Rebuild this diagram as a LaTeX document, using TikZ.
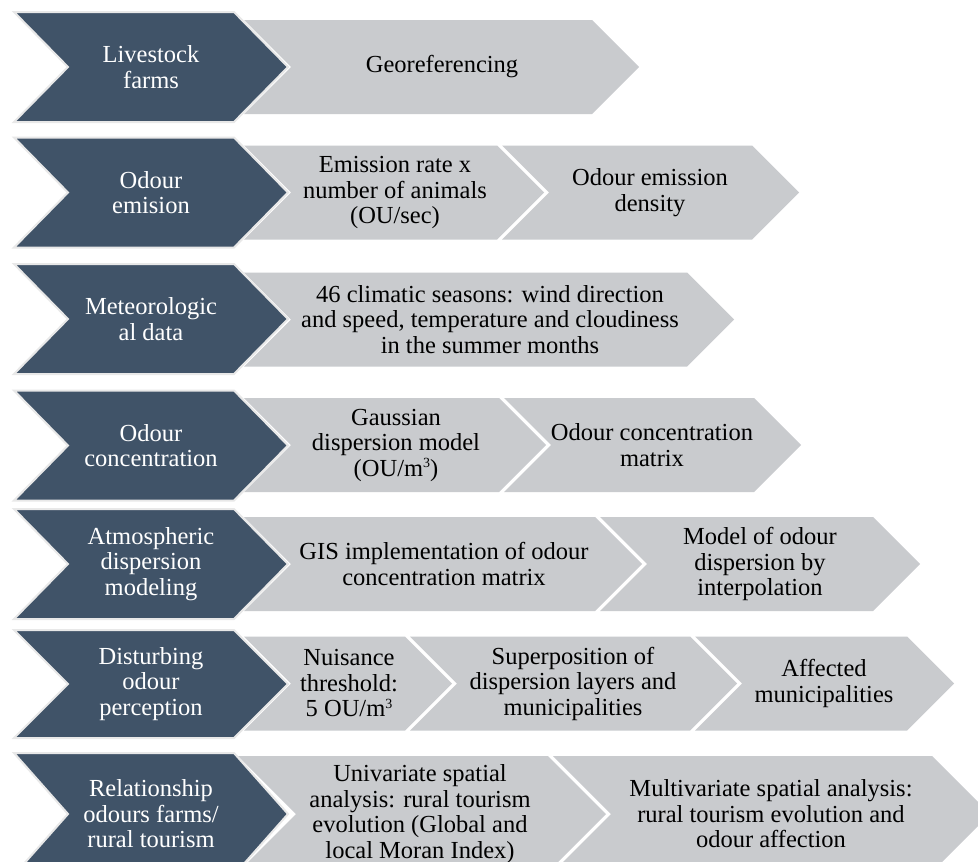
\documentclass[tikz,border=0pt]{standalone}
\usepackage{fontspec}
\setmainfont{Liberation Serif}
\definecolor{darkc}{RGB}{64,83,104}
\definecolor{lightc}{RGB}{201,203,206}
\definecolor{edgec}{RGB}{232,232,232}
\newcommand{\cubic}{\raisebox{0.78ex}{\fontsize{14}{14}\selectfont 3}}
\tikzset{
  darkchev/.style={fill=darkc, draw=edgec, line width=2pt, line join=miter},
  lightchev/.style={fill=lightc},
  dtext/.style={text=white, align=center, inner sep=0pt, font=\fontsize{24.5}{25.5}\selectfont},
  ltext/.style={text=black, align=center, inner sep=0pt, font=\fontsize{24.5}{25.5}\selectfont},
}
% dark chevron: centre y, half height
\newcommand{\DChev}[2]{%
  \path[darkchev] (14,#1-#2) -- (234,#1-#2) -- (288,#1) -- (234,#1+#2) -- (14,#1+#2) -- (68,#1) -- cycle;}
% light chevron: centre y, half height, left x, top-right corner x
\newcommand{\LChev}[4]{%
  \path[lightchev] (#3,#1-#2) -- (#4,#1-#2) -- (#4+#2,#1) -- (#4,#1+#2) -- (#3,#1+#2) -- (#3+#2,#1) -- cycle;}
\begin{document}
\begin{tikzpicture}[x=1pt,y=-1pt]
\useasboundingbox (0,0) rectangle (978,862);
\clip (0,0) rectangle (978,862);
\fill[white] (0,0) rectangle (978,862);

% ---------- light chevrons ----------
% row 1
\LChev{67}{47}{244}{592}
% row 2
\LChev{192.5}{47}{244}{497}
\LChev{192.5}{47}{502}{752}
% row 3
\LChev{319.5}{47}{244}{687}
% row 4
\LChev{445}{47}{244}{499}
\LChev{445}{47}{504}{754}
% row 5
\LChev{564}{47}{244}{595}
\LChev{564}{47}{600}{873}
% row 6
\LChev{683.5}{47}{244}{405}
\LChev{683.5}{47}{410}{690}
\LChev{683.5}{47}{695}{907}
% row 7
\LChev{814}{58}{238}{548}
\LChev{814}{58}{553}{932}

% ---------- dark chevrons ----------
\DChev{67}{55}
\DChev{192.5}{55}
\DChev{319}{55}
\DChev{445.5}{55}
\DChev{564}{55}
\DChev{684}{54}
\DChev{814}{61}

% ---------- dark texts ----------
\node[dtext] (d1) at (151,67) {Livestock\\farms};
\node[dtext] (d2) at (151,192.5) {Odour\\emision};
\node[dtext] (d3) at (151,319) {Meteorologic\\al data};
\node[dtext] (d4) at (151,445.5) {Odour\\concentration};
\node[dtext] (d5) at (151,564) {Atmospheric\\dispersion\\modeling};
\node[dtext] (d6) at (151,684) {Disturbing\\odour\\perception};
\node[dtext] (d7) at (151,814) {Relationship\\odours farms/\\rural tourism};

% ---------- light texts ----------
\node[ltext] (l11) at (442,67) {Georeferencing};
\node[ltext] (l21) at (395,192.5) {Emission rate x\\number of animals\\(OU/sec)};
\node[ltext] (l22) at (650,192.5) {Odour emission\\density};
\node[ltext] (l31) at (490,319.5) {46 climatic seasons: wind direction\\and speed, temperature and cloudiness\\in the summer months};
\node[ltext] (l41) at (396,445) {Gaussian\\dispersion model\\(OU/m\cubic)};
\node[ltext] (l42) at (652,445) {Odour concentration\\matrix};
\node[ltext] (l51) at (444,564) {GIS implementation of odour\\concentration matrix};
\node[ltext] (l52) at (760,564) {Model of odour\\dispersion by\\interpolation};
\node[ltext] (l61) at (349,683.5) {Nuisance\\threshold:\\5 OU/m\cubic};
\node[ltext] (l62) at (573,683.5) {Superposition of\\dispersion layers and\\municipalities};
\node[ltext] (l63) at (824,683.5) {Affected\\municipalities};
\node[ltext] (l71) at (420,814) {Univariate spatial\\analysis: rural tourism\\evolution (Global and\\local Moran Index)};
\node[ltext] (l72) at (771,814) {Multivariate spatial analysis:\\rural tourism evolution and\\odour affection};
\end{tikzpicture}
\end{document}
